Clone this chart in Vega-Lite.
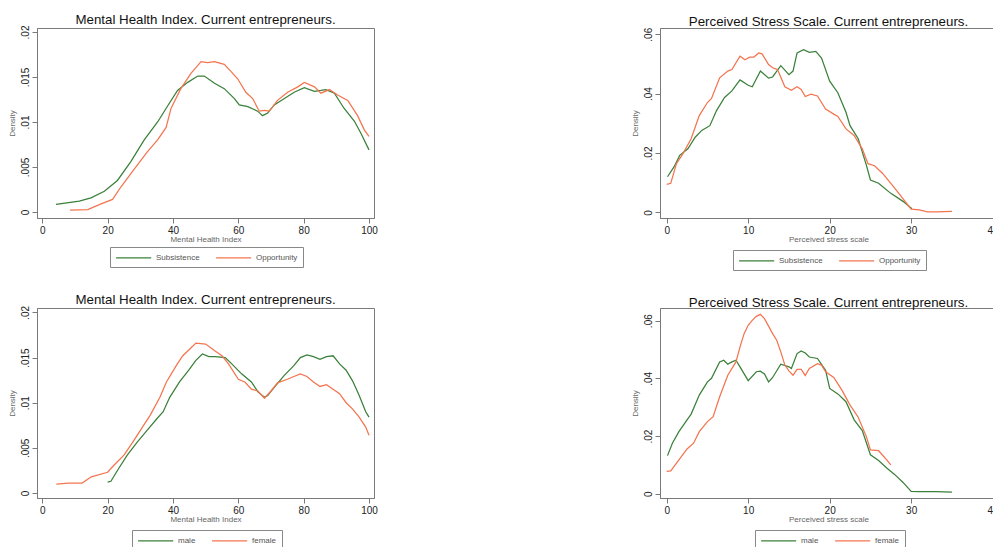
{
  "$schema": "https://vega.github.io/schema/vega-lite/v6.json",
  "background": "white",
  "padding": {"left": 7, "top": 12, "right": 0, "bottom": 0},
  "bounds": "flush",
  "columns": 2,
  "spacing": {"row": 90, "column": 286},
  "config": {
    "font": "Liberation Sans",
    "view": {"stroke": "#7a7a7a", "strokeWidth": 1},
    "title": {"fontSize": 13.3, "fontWeight": "normal", "color": "#111111", "offset": -1, "anchor": "middle"},
    "axis": {
      "grid": false,
      "domainColor": "#7a7a7a",
      "tickColor": "#7a7a7a",
      "tickSize": 5,
      "labelFontSize": 10,
      "labelColor": "#222222",
      "labelPadding": 2,
      "titleFontSize": 8,
      "titleFontWeight": "normal",
      "titleColor": "#666666"
    },
    "axisX": {"titlePadding": 0},
    "axisY": {"labelAngle": -90, "titlePadding": 4},
    "legend": {
      "orient": "none",
      "direction": "horizontal",
      "title": null,
      "symbolType": "M-1,0H7",
      "symbolSize": 77,
      "symbolStrokeWidth": 1.5,
      "labelFontSize": 8,
      "labelColor": "#555555",
      "strokeColor": "#888888",
      "padding": 5,
      "columnPadding": 13,
      "labelOffset": 30
    },
    "line": {"strokeWidth": 1.25}
  },
  "datasets": {
    "mhiType": [
      {"x": 4.2, "y": 0.00085, "g": "Subsistence"}, {"x": 11.3, "y": 0.0012, "g": "Subsistence"}, {"x": 14.9, "y": 0.00156, "g": "Subsistence"},
      {"x": 19, "y": 0.0023, "g": "Subsistence"}, {"x": 23, "y": 0.0035, "g": "Subsistence"}, {"x": 27.1, "y": 0.0056, "g": "Subsistence"},
      {"x": 31.2, "y": 0.008, "g": "Subsistence"}, {"x": 35.3, "y": 0.01, "g": "Subsistence"}, {"x": 38.4, "y": 0.0118, "g": "Subsistence"},
      {"x": 41.4, "y": 0.0135, "g": "Subsistence"}, {"x": 44.5, "y": 0.0144, "g": "Subsistence"}, {"x": 47.6, "y": 0.0151, "g": "Subsistence"},
      {"x": 49.6, "y": 0.0151, "g": "Subsistence"}, {"x": 52.7, "y": 0.0143, "g": "Subsistence"}, {"x": 55.7, "y": 0.0137, "g": "Subsistence"},
      {"x": 58.8, "y": 0.0126, "g": "Subsistence"}, {"x": 60.3, "y": 0.0119, "g": "Subsistence"}, {"x": 62.9, "y": 0.0117, "g": "Subsistence"},
      {"x": 65.9, "y": 0.0112, "g": "Subsistence"}, {"x": 67.4, "y": 0.0107, "g": "Subsistence"}, {"x": 69, "y": 0.011, "g": "Subsistence"},
      {"x": 71, "y": 0.0119, "g": "Subsistence"}, {"x": 74.1, "y": 0.0126, "g": "Subsistence"}, {"x": 77.1, "y": 0.0133, "g": "Subsistence"},
      {"x": 80.2, "y": 0.0138, "g": "Subsistence"}, {"x": 83.3, "y": 0.0134, "g": "Subsistence"}, {"x": 85.3, "y": 0.0135, "g": "Subsistence"},
      {"x": 86.8, "y": 0.0136, "g": "Subsistence"}, {"x": 89.4, "y": 0.0132, "g": "Subsistence"}, {"x": 92.4, "y": 0.0115, "g": "Subsistence"},
      {"x": 95.5, "y": 0.0101, "g": "Subsistence"}, {"x": 97.6, "y": 0.0087, "g": "Subsistence"}, {"x": 100, "y": 0.0069, "g": "Subsistence"},
      {"x": 8.5, "y": 0.0002, "g": "Opportunity"}, {"x": 13.9, "y": 0.00026, "g": "Opportunity"}, {"x": 18, "y": 0.0009, "g": "Opportunity"},
      {"x": 21.5, "y": 0.0014, "g": "Opportunity"}, {"x": 24.1, "y": 0.0028, "g": "Opportunity"}, {"x": 28.2, "y": 0.0048, "g": "Opportunity"},
      {"x": 32.2, "y": 0.0067, "g": "Opportunity"}, {"x": 35.3, "y": 0.008, "g": "Opportunity"}, {"x": 37.9, "y": 0.0094, "g": "Opportunity"},
      {"x": 39.4, "y": 0.0115, "g": "Opportunity"}, {"x": 42.4, "y": 0.0137, "g": "Opportunity"}, {"x": 45.5, "y": 0.0154, "g": "Opportunity"},
      {"x": 48.6, "y": 0.0167, "g": "Opportunity"}, {"x": 50.6, "y": 0.0166, "g": "Opportunity"}, {"x": 52.7, "y": 0.0167, "g": "Opportunity"},
      {"x": 55.7, "y": 0.0164, "g": "Opportunity"}, {"x": 57.8, "y": 0.0156, "g": "Opportunity"}, {"x": 59.8, "y": 0.0148, "g": "Opportunity"},
      {"x": 62.3, "y": 0.0133, "g": "Opportunity"}, {"x": 64.4, "y": 0.0126, "g": "Opportunity"}, {"x": 66.4, "y": 0.0112, "g": "Opportunity"},
      {"x": 68, "y": 0.0113, "g": "Opportunity"}, {"x": 69.5, "y": 0.0112, "g": "Opportunity"}, {"x": 72, "y": 0.0124, "g": "Opportunity"},
      {"x": 75.1, "y": 0.0133, "g": "Opportunity"}, {"x": 78.2, "y": 0.0139, "g": "Opportunity"}, {"x": 80.2, "y": 0.0144, "g": "Opportunity"},
      {"x": 83.3, "y": 0.0139, "g": "Opportunity"}, {"x": 85.3, "y": 0.0132, "g": "Opportunity"}, {"x": 87.9, "y": 0.0136, "g": "Opportunity"},
      {"x": 90.4, "y": 0.013, "g": "Opportunity"}, {"x": 93.5, "y": 0.0124, "g": "Opportunity"}, {"x": 96.5, "y": 0.0107, "g": "Opportunity"},
      {"x": 98.6, "y": 0.0091, "g": "Opportunity"}, {"x": 100, "y": 0.0084, "g": "Opportunity"}
    ],
    "pssType": [
      {"x": 0.1, "y": 0.012, "g": "Subsistence"}, {"x": 0.9, "y": 0.0153, "g": "Subsistence"}, {"x": 1.6, "y": 0.0192, "g": "Subsistence"},
      {"x": 2.6, "y": 0.0214, "g": "Subsistence"}, {"x": 3.5, "y": 0.0253, "g": "Subsistence"}, {"x": 4.3, "y": 0.0276, "g": "Subsistence"},
      {"x": 5.3, "y": 0.0292, "g": "Subsistence"}, {"x": 6.1, "y": 0.0342, "g": "Subsistence"}, {"x": 7.1, "y": 0.0387, "g": "Subsistence"},
      {"x": 8, "y": 0.0409, "g": "Subsistence"}, {"x": 9, "y": 0.0446, "g": "Subsistence"}, {"x": 10, "y": 0.0428, "g": "Subsistence"},
      {"x": 10.5, "y": 0.0423, "g": "Subsistence"}, {"x": 11.5, "y": 0.0476, "g": "Subsistence"}, {"x": 12.5, "y": 0.0452, "g": "Subsistence"},
      {"x": 13, "y": 0.0456, "g": "Subsistence"}, {"x": 14, "y": 0.0494, "g": "Subsistence"}, {"x": 15, "y": 0.0464, "g": "Subsistence"},
      {"x": 15.5, "y": 0.0476, "g": "Subsistence"}, {"x": 16, "y": 0.0537, "g": "Subsistence"}, {"x": 16.8, "y": 0.0548, "g": "Subsistence"},
      {"x": 17.5, "y": 0.0539, "g": "Subsistence"}, {"x": 18.3, "y": 0.0542, "g": "Subsistence"}, {"x": 19, "y": 0.052, "g": "Subsistence"},
      {"x": 20, "y": 0.0442, "g": "Subsistence"}, {"x": 21, "y": 0.0403, "g": "Subsistence"}, {"x": 22, "y": 0.0337, "g": "Subsistence"},
      {"x": 22.5, "y": 0.0292, "g": "Subsistence"}, {"x": 23.5, "y": 0.0248, "g": "Subsistence"}, {"x": 24.5, "y": 0.0159, "g": "Subsistence"},
      {"x": 25, "y": 0.0109, "g": "Subsistence"}, {"x": 26, "y": 0.0098, "g": "Subsistence"}, {"x": 27.5, "y": 0.0064, "g": "Subsistence"},
      {"x": 29, "y": 0.0037, "g": "Subsistence"}, {"x": 30.1, "y": 0.0012, "g": "Subsistence"},
      {"x": 0, "y": 0.0094, "g": "Opportunity"}, {"x": 0.5, "y": 0.0098, "g": "Opportunity"}, {"x": 1.2, "y": 0.0164, "g": "Opportunity"},
      {"x": 2, "y": 0.0198, "g": "Opportunity"}, {"x": 3, "y": 0.0248, "g": "Opportunity"}, {"x": 4, "y": 0.0326, "g": "Opportunity"},
      {"x": 5, "y": 0.037, "g": "Opportunity"}, {"x": 5.5, "y": 0.0384, "g": "Opportunity"}, {"x": 6.5, "y": 0.0453, "g": "Opportunity"},
      {"x": 7.5, "y": 0.0476, "g": "Opportunity"}, {"x": 8, "y": 0.0481, "g": "Opportunity"}, {"x": 9, "y": 0.0526, "g": "Opportunity"},
      {"x": 9.6, "y": 0.0514, "g": "Opportunity"}, {"x": 10.2, "y": 0.0523, "g": "Opportunity"}, {"x": 10.7, "y": 0.0523, "g": "Opportunity"},
      {"x": 11.3, "y": 0.0537, "g": "Opportunity"}, {"x": 11.7, "y": 0.0534, "g": "Opportunity"}, {"x": 12.5, "y": 0.0498, "g": "Opportunity"},
      {"x": 13, "y": 0.0487, "g": "Opportunity"}, {"x": 13.6, "y": 0.0481, "g": "Opportunity"}, {"x": 14.5, "y": 0.0423, "g": "Opportunity"},
      {"x": 15.3, "y": 0.0411, "g": "Opportunity"}, {"x": 16, "y": 0.0423, "g": "Opportunity"}, {"x": 16.5, "y": 0.0414, "g": "Opportunity"},
      {"x": 17, "y": 0.039, "g": "Opportunity"}, {"x": 17.7, "y": 0.0398, "g": "Opportunity"}, {"x": 18.5, "y": 0.0392, "g": "Opportunity"},
      {"x": 19.5, "y": 0.0348, "g": "Opportunity"}, {"x": 20.5, "y": 0.0331, "g": "Opportunity"}, {"x": 21, "y": 0.0323, "g": "Opportunity"},
      {"x": 22, "y": 0.0281, "g": "Opportunity"}, {"x": 23, "y": 0.0259, "g": "Opportunity"}, {"x": 24, "y": 0.0214, "g": "Opportunity"},
      {"x": 24.7, "y": 0.0164, "g": "Opportunity"}, {"x": 25.5, "y": 0.0157, "g": "Opportunity"}, {"x": 26.5, "y": 0.0131, "g": "Opportunity"},
      {"x": 28, "y": 0.0081, "g": "Opportunity"}, {"x": 30, "y": 0.0011, "g": "Opportunity"}, {"x": 31, "y": 0.0008, "g": "Opportunity"},
      {"x": 32, "y": 0.0002, "g": "Opportunity"}, {"x": 33, "y": 0.0002, "g": "Opportunity"}, {"x": 35, "y": 0.0003, "g": "Opportunity"}
    ],
    "mhiGender": [
      {"x": 20, "y": 0.0012, "g": "male"}, {"x": 21, "y": 0.0013, "g": "male"}, {"x": 23, "y": 0.0025, "g": "male"},
      {"x": 26, "y": 0.0042, "g": "male"}, {"x": 29, "y": 0.0056, "g": "male"}, {"x": 32, "y": 0.0069, "g": "male"},
      {"x": 35, "y": 0.0082, "g": "male"}, {"x": 37, "y": 0.009, "g": "male"}, {"x": 39, "y": 0.0106, "g": "male"},
      {"x": 42, "y": 0.0123, "g": "male"}, {"x": 45, "y": 0.0137, "g": "male"}, {"x": 47, "y": 0.0147, "g": "male"},
      {"x": 49, "y": 0.0154, "g": "male"}, {"x": 51, "y": 0.0151, "g": "male"}, {"x": 53, "y": 0.0151, "g": "male"},
      {"x": 56, "y": 0.015, "g": "male"}, {"x": 58, "y": 0.0143, "g": "male"}, {"x": 61, "y": 0.0132, "g": "male"},
      {"x": 64, "y": 0.0123, "g": "male"}, {"x": 66, "y": 0.0112, "g": "male"}, {"x": 68, "y": 0.0106, "g": "male"},
      {"x": 69, "y": 0.0108, "g": "male"}, {"x": 71, "y": 0.0117, "g": "male"}, {"x": 74, "y": 0.013, "g": "male"},
      {"x": 77, "y": 0.0141, "g": "male"}, {"x": 79, "y": 0.015, "g": "male"}, {"x": 81, "y": 0.0153, "g": "male"},
      {"x": 83, "y": 0.0151, "g": "male"}, {"x": 85, "y": 0.0148, "g": "male"}, {"x": 87, "y": 0.0151, "g": "male"},
      {"x": 89, "y": 0.0152, "g": "male"}, {"x": 91, "y": 0.0143, "g": "male"}, {"x": 93, "y": 0.0136, "g": "male"},
      {"x": 95, "y": 0.0124, "g": "male"}, {"x": 97, "y": 0.0108, "g": "male"}, {"x": 99, "y": 0.009, "g": "male"},
      {"x": 100, "y": 0.0084, "g": "male"},
      {"x": 4.3, "y": 0.001, "g": "female"}, {"x": 8, "y": 0.0011, "g": "female"}, {"x": 12.2, "y": 0.0011, "g": "female"},
      {"x": 15, "y": 0.0018, "g": "female"}, {"x": 20, "y": 0.0023, "g": "female"}, {"x": 22, "y": 0.0031, "g": "female"},
      {"x": 25, "y": 0.0042, "g": "female"}, {"x": 28, "y": 0.0058, "g": "female"}, {"x": 31, "y": 0.0075, "g": "female"},
      {"x": 33, "y": 0.0086, "g": "female"}, {"x": 36, "y": 0.0106, "g": "female"}, {"x": 38, "y": 0.0123, "g": "female"},
      {"x": 41, "y": 0.0141, "g": "female"}, {"x": 43, "y": 0.0152, "g": "female"}, {"x": 45, "y": 0.0159, "g": "female"},
      {"x": 47, "y": 0.0166, "g": "female"}, {"x": 50, "y": 0.0165, "g": "female"}, {"x": 53, "y": 0.0157, "g": "female"},
      {"x": 55, "y": 0.0152, "g": "female"}, {"x": 57, "y": 0.0143, "g": "female"}, {"x": 60, "y": 0.0126, "g": "female"},
      {"x": 62, "y": 0.0123, "g": "female"}, {"x": 64, "y": 0.0115, "g": "female"}, {"x": 66, "y": 0.0113, "g": "female"},
      {"x": 68, "y": 0.0105, "g": "female"}, {"x": 70, "y": 0.0113, "g": "female"}, {"x": 72, "y": 0.0122, "g": "female"},
      {"x": 75, "y": 0.0126, "g": "female"}, {"x": 77, "y": 0.0129, "g": "female"}, {"x": 79, "y": 0.0132, "g": "female"},
      {"x": 81, "y": 0.0129, "g": "female"}, {"x": 83, "y": 0.0123, "g": "female"}, {"x": 85, "y": 0.0118, "g": "female"},
      {"x": 87, "y": 0.012, "g": "female"}, {"x": 89, "y": 0.0115, "g": "female"}, {"x": 91, "y": 0.011, "g": "female"},
      {"x": 93, "y": 0.01, "g": "female"}, {"x": 95, "y": 0.0093, "g": "female"}, {"x": 97, "y": 0.0084, "g": "female"},
      {"x": 99, "y": 0.0073, "g": "female"}, {"x": 100, "y": 0.0064, "g": "female"}
    ],
    "pssGender": [
      {"x": 0.1, "y": 0.0132, "g": "male"}, {"x": 0.7, "y": 0.0175, "g": "male"}, {"x": 1.5, "y": 0.0215, "g": "male"},
      {"x": 2.5, "y": 0.0256, "g": "male"}, {"x": 3, "y": 0.0276, "g": "male"}, {"x": 4, "y": 0.0342, "g": "male"},
      {"x": 5, "y": 0.0388, "g": "male"}, {"x": 5.5, "y": 0.04, "g": "male"}, {"x": 6.5, "y": 0.0457, "g": "male"},
      {"x": 7, "y": 0.0463, "g": "male"}, {"x": 7.5, "y": 0.0449, "g": "male"}, {"x": 8, "y": 0.0457, "g": "male"},
      {"x": 8.5, "y": 0.0463, "g": "male"}, {"x": 9, "y": 0.044, "g": "male"}, {"x": 10, "y": 0.0392, "g": "male"},
      {"x": 11, "y": 0.0423, "g": "male"}, {"x": 11.5, "y": 0.0425, "g": "male"}, {"x": 12, "y": 0.0415, "g": "male"},
      {"x": 12.5, "y": 0.0388, "g": "male"}, {"x": 13, "y": 0.0403, "g": "male"}, {"x": 14, "y": 0.0449, "g": "male"},
      {"x": 15, "y": 0.044, "g": "male"}, {"x": 15.3, "y": 0.0434, "g": "male"}, {"x": 16, "y": 0.0486, "g": "male"},
      {"x": 16.5, "y": 0.0495, "g": "male"}, {"x": 17, "y": 0.0488, "g": "male"}, {"x": 17.5, "y": 0.0474, "g": "male"},
      {"x": 18.5, "y": 0.0469, "g": "male"}, {"x": 19.5, "y": 0.0428, "g": "male"}, {"x": 20, "y": 0.0365, "g": "male"},
      {"x": 21, "y": 0.0346, "g": "male"}, {"x": 22, "y": 0.0319, "g": "male"}, {"x": 23, "y": 0.0256, "g": "male"},
      {"x": 24, "y": 0.0219, "g": "male"}, {"x": 25, "y": 0.0135, "g": "male"}, {"x": 26, "y": 0.0115, "g": "male"},
      {"x": 27, "y": 0.0089, "g": "male"}, {"x": 28, "y": 0.0066, "g": "male"}, {"x": 29, "y": 0.0039, "g": "male"},
      {"x": 30, "y": 0.0008, "g": "male"}, {"x": 31, "y": 0.0007, "g": "male"}, {"x": 33, "y": 0.0007, "g": "male"},
      {"x": 35, "y": 0.0005, "g": "male"},
      {"x": 0, "y": 0.0077, "g": "female"}, {"x": 0.5, "y": 0.0079, "g": "female"}, {"x": 1.5, "y": 0.0117, "g": "female"},
      {"x": 2.5, "y": 0.0155, "g": "female"}, {"x": 3.3, "y": 0.0175, "g": "female"}, {"x": 4, "y": 0.0215, "g": "female"},
      {"x": 5, "y": 0.025, "g": "female"}, {"x": 5.7, "y": 0.0267, "g": "female"}, {"x": 6.5, "y": 0.0336, "g": "female"},
      {"x": 7.5, "y": 0.0411, "g": "female"}, {"x": 8.5, "y": 0.0457, "g": "female"}, {"x": 9, "y": 0.0509, "g": "female"},
      {"x": 9.5, "y": 0.0555, "g": "female"}, {"x": 10, "y": 0.0584, "g": "female"}, {"x": 10.5, "y": 0.0601, "g": "female"},
      {"x": 11, "y": 0.0615, "g": "female"}, {"x": 11.5, "y": 0.0622, "g": "female"}, {"x": 12, "y": 0.0607, "g": "female"},
      {"x": 13, "y": 0.0555, "g": "female"}, {"x": 13.5, "y": 0.0532, "g": "female"}, {"x": 14, "y": 0.0492, "g": "female"},
      {"x": 14.5, "y": 0.0446, "g": "female"}, {"x": 15, "y": 0.0426, "g": "female"}, {"x": 15.5, "y": 0.0411, "g": "female"},
      {"x": 16, "y": 0.0431, "g": "female"}, {"x": 16.5, "y": 0.0431, "g": "female"}, {"x": 17, "y": 0.041, "g": "female"},
      {"x": 17.5, "y": 0.0434, "g": "female"}, {"x": 18.5, "y": 0.0451, "g": "female"}, {"x": 19, "y": 0.0446, "g": "female"},
      {"x": 19.5, "y": 0.0423, "g": "female"}, {"x": 20.5, "y": 0.0403, "g": "female"}, {"x": 21.5, "y": 0.0359, "g": "female"},
      {"x": 22.5, "y": 0.0307, "g": "female"}, {"x": 23.5, "y": 0.0265, "g": "female"}, {"x": 24.5, "y": 0.0198, "g": "female"},
      {"x": 25, "y": 0.0152, "g": "female"}, {"x": 26, "y": 0.0149, "g": "female"}, {"x": 27, "y": 0.0117, "g": "female"},
      {"x": 27.5, "y": 0.01, "g": "female"}
    ]
  },
  "resolve": {
    "scale": {"x": "independent", "y": "independent", "color": "independent"},
    "axis": {"x": "independent", "y": "independent"},
    "legend": {"color": "independent"}
  },
  "concat": [
    {
      "width": 337, "height": 190,
      "title": "Mental Health Index. Current entrepreneurs.",
      "data": {"name": "mhiType"},
      "mark": {"type": "line"},
      "encoding": {
        "x": {"field": "x", "type": "quantitative", "scale": {"domain": [-1.62, 101.53], "nice": false, "zero": false},
              "axis": {"values": [0, 20, 40, 60, 80, 100], "title": "Mental Health Index"}},
        "y": {"field": "y", "type": "quantitative", "scale": {"domain": [-0.00067, 0.02044], "nice": false, "zero": false},
              "axis": {"values": [0, 0.005, 0.01, 0.015, 0.02], "title": "Density",
                       "labelExpr": "datum.value == 0 ? '0' : replace(format(datum.value, '.3~f'), '0.', '.')"}},
        "color": {"field": "g", "type": "nominal", "sort": ["Subsistence", "Opportunity"],
                  "scale": {"domain": ["Subsistence", "Opportunity"], "range": ["#3a803a", "#f4744f"]},
                  "legend": {"legendX": 73, "legendY": 219}}
      }
    },
    {
      "width": 337, "height": 190,
      "title": "Perceived Stress Scale. Current entrepreneurs.",
      "data": {"name": "pssType"},
      "mark": {"type": "line"},
      "encoding": {
        "x": {"field": "x", "type": "quantitative", "scale": {"domain": [-0.82, 40.53], "nice": false, "zero": false},
              "axis": {"values": [0, 10, 20, 30, 40], "title": "Perceived stress scale"}},
        "y": {"field": "y", "type": "quantitative", "scale": {"domain": [-0.0019, 0.0621], "nice": false, "zero": false},
              "axis": {"values": [0, 0.02, 0.04, 0.06], "title": "Density",
                       "labelExpr": "datum.value == 0 ? '0' : replace(format(datum.value, '.3~f'), '0.', '.')"}},
        "color": {"field": "g", "type": "nominal", "sort": ["Subsistence", "Opportunity"],
                  "scale": {"domain": ["Subsistence", "Opportunity"], "range": ["#3a803a", "#f4744f"]},
                  "legend": {"legendX": 73, "legendY": 222}}
      }
    },
    {
      "width": 337, "height": 190,
      "title": "Mental Health Index. Current entrepreneurs.",
      "data": {"name": "mhiGender"},
      "mark": {"type": "line"},
      "encoding": {
        "x": {"field": "x", "type": "quantitative", "scale": {"domain": [-1.62, 101.53], "nice": false, "zero": false},
              "axis": {"values": [0, 20, 40, 60, 80, 100], "title": "Mental Health Index"}},
        "y": {"field": "y", "type": "quantitative", "scale": {"domain": [-0.00055, 0.02049], "nice": false, "zero": false},
              "axis": {"values": [0, 0.005, 0.01, 0.015, 0.02], "title": "Density",
                       "labelExpr": "datum.value == 0 ? '0' : replace(format(datum.value, '.3~f'), '0.', '.')"}},
        "color": {"field": "g", "type": "nominal", "sort": ["male", "female"],
                  "scale": {"domain": ["male", "female"], "range": ["#3a803a", "#f4744f"]},
                  "legend": {"legendX": 95, "legendY": 222}}
      }
    },
    {
      "width": 337, "height": 190,
      "title": "Perceived Stress Scale. Current entrepreneurs.",
      "data": {"name": "pssGender"},
      "mark": {"type": "line"},
      "encoding": {
        "x": {"field": "x", "type": "quantitative", "scale": {"domain": [-0.82, 40.53], "nice": false, "zero": false},
              "axis": {"values": [0, 10, 20, 30, 40], "title": "Perceived stress scale"}},
        "y": {"field": "y", "type": "quantitative", "scale": {"domain": [-0.0015, 0.0644], "nice": false, "zero": false},
              "axis": {"values": [0, 0.02, 0.04, 0.06], "title": "Density",
                       "labelExpr": "datum.value == 0 ? '0' : replace(format(datum.value, '.3~f'), '0.', '.')"}},
        "color": {"field": "g", "type": "nominal", "sort": ["male", "female"],
                  "scale": {"domain": ["male", "female"], "range": ["#3a803a", "#f4744f"]},
                  "legend": {"legendX": 95, "legendY": 222}}
      }
    }
  ]
}
